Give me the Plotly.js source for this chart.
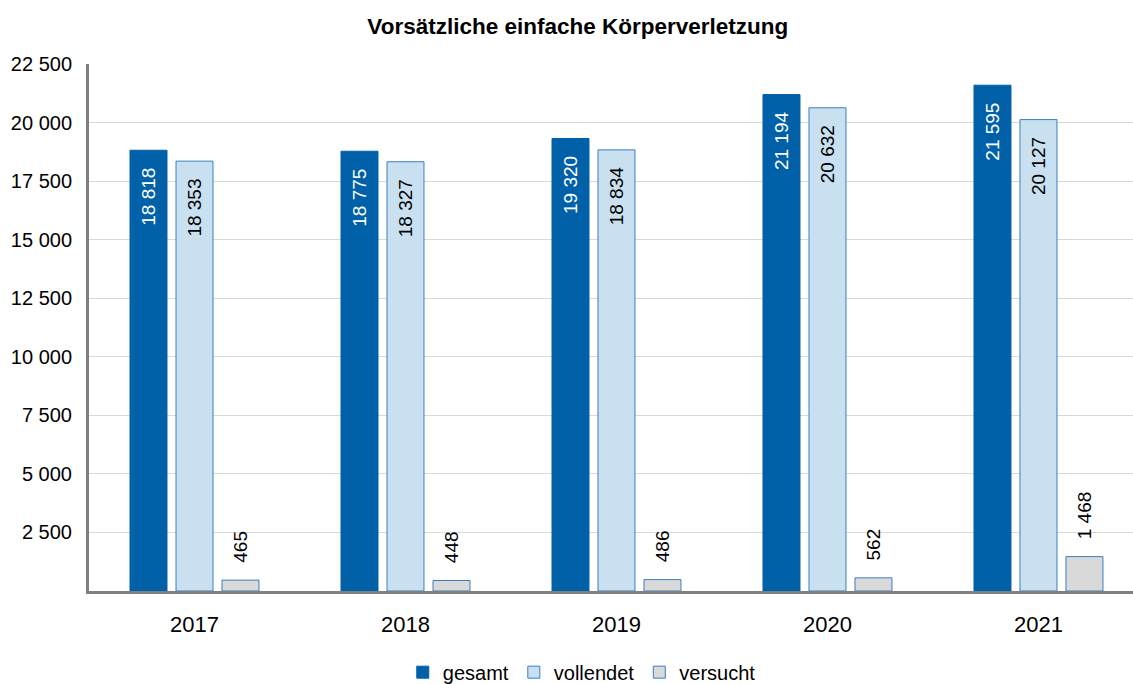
<!DOCTYPE html>
<html>
<head>
<meta charset="utf-8">
<script src="https://cdn.plot.ly/plotly-3.0.1.min.js"></script>
<style>html,body{margin:0;padding:0;background:#fff;}#chart{width:1133px;height:684px;}</style>
</head>
<body>
<div id="chart"></div>
<script>
const years = ['2017', '2018', '2019', '2020', '2021'];
const gesamt = [18818, 18775, 19320, 21194, 21595];
const vollendet = [18353, 18327, 18834, 20632, 20127];
const versucht = [465, 448, 486, 562, 1468];
const yTicks = [2500, 5000, 7500, 10000, 12500, 15000, 17500, 20000, 22500];

const font = 'Liberation Sans, Arial, sans-serif';
const pad = '\u00A0\u00A0\u2009';

const traces = [
  {
    type: 'bar', name: 'gesamt', x: years, y: gesamt,
    marker: {color: '#0060A8', line: {color: '#0060A8', width: 1}},
    texttemplate: '%{y:,}' + pad, textposition: 'inside', insidetextanchor: 'end',
    textangle: -90, textfont: {color: '#FFFFFF', size: 19, family: font},
    constraintext: 'none', cliponaxis: false
  },
  {
    type: 'bar', name: 'vollendet', x: years, y: vollendet,
    marker: {color: '#C9E0F0', line: {color: '#3A7FC0', width: 1}},
    texttemplate: '%{y:,}' + pad, textposition: 'inside', insidetextanchor: 'end',
    textangle: -90, textfont: {color: '#000000', size: 19, family: font},
    constraintext: 'none', cliponaxis: false
  },
  {
    type: 'bar', name: 'versucht', x: years, y: versucht,
    marker: {color: '#D9D9D9', line: {color: '#3A7FC0', width: 1}},
    texttemplate: pad + '%{y:,}', textposition: 'outside',
    textangle: -90, textfont: {color: '#000000', size: 19, family: font},
    constraintext: 'none', cliponaxis: false
  }
];

const layout = {
  width: 1133, height: 684,
  paper_bgcolor: '#FFFFFF', plot_bgcolor: '#FFFFFF',
  separators: ', ',
  font: {family: font, size: 18, color: '#000000'},
  title: {text: '<b>Vorsätzliche einfache Körperverletzung</b>', x: 0.51, xanchor: 'center', y: 0.962, yanchor: 'middle', font: {size: 22.5, family: font, color: '#000'}},
  margin: {l: 89, r: 0, t: 64, b: 93, autoexpand: false},
  barmode: 'group', bargap: 0.346, bargroupgap: 0.196,
  xaxis: {
    type: 'category', range: [-0.5, 4.448],
    showline: true, linecolor: '#808080', linewidth: 3,
    ticks: '', tickfont: {size: 22, family: font}, ticklabelstandoff: 12,
    showgrid: false, zeroline: false
  },
  yaxis: {
    range: [0, 22500], tickvals: yTicks, tickformat: ',',
    showline: true, linecolor: '#808080', linewidth: 3,
    showgrid: true, gridcolor: '#D9D9D9', gridwidth: 1,
    zeroline: false, ticks: '', ticklen: 0, tickfont: {size: 20, family: font},
    ticklabelstandoff: 10
  },
  legend: {
    orientation: 'h', x: 0.472, xanchor: 'center', y: -0.154, yanchor: 'middle',
    font: {size: 20, family: font}, itemwidth: 30, traceorder: 'normal'
  },
  showlegend: true
};

Plotly.newPlot('chart', traces, layout, {displayModeBar: false, staticPlot: true});
</script>
</body>
</html>
